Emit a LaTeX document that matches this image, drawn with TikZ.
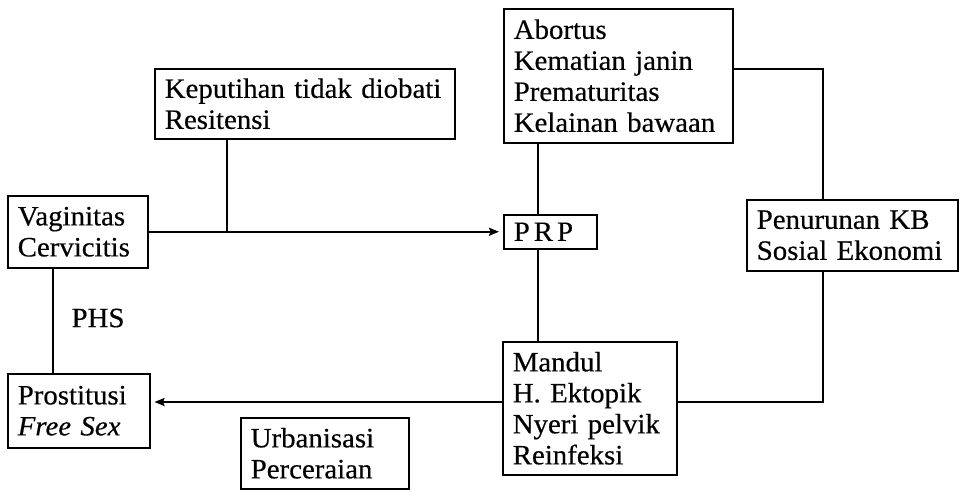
\documentclass[tikz,border=0pt]{standalone}
\usepackage{fontspec}
\setmainfont[FakeStretch=1.03,FakeBold=0.4]{Liberation Serif}
\usetikzlibrary{arrows.meta}
\tikzset{
  box/.style={draw, line width=1.5pt, anchor=north west, inner xsep=10pt, inner ysep=0pt,
    align=left, font=\fontsize{28}{31}\selectfont},
  conn/.style={line width=2.1pt},
  arr/.style={conn, -{Stealth[length=10pt,width=8pt,inset=1.5pt]}, shorten >=4pt},
  lbl/.style={font=\fontsize{28}{31}\selectfont, inner sep=0pt}
}
\begin{document}
\begin{tikzpicture}[x=1pt,y=-1pt]
\fill[white] (0,0) rectangle (960,491);
\useasboundingbox (0,0) rectangle (960,491);

\node[box, minimum width=140pt, minimum height=72pt, text width=120pt] (vag) at (7,195) {\mbox{Vaginitas}\\\mbox{Cervicitis}};
\node[box, minimum width=300pt, minimum height=70pt, text width=280pt] (kep) at (154,68) {\mbox{Keputihan tidak diobati}\\\mbox{Resitensi}};
\node[box, minimum width=93pt, minimum height=34pt, text width=73pt] (prp) at (503,214) {\mbox{P\hspace{4pt}R\hspace{4pt}P}};
\node[box, minimum width=229pt, minimum height=134pt, text width=209pt] (abo) at (503,8) {\mbox{Abortus}\\\mbox{Kematian janin}\\\mbox{Prematuritas}\\\mbox{Kelainan bawaan}};
\node[box, minimum width=211pt, minimum height=71pt, text width=191pt] (pen) at (746,199) {\mbox{Penurunan KB}\\\mbox{Sosial Ekonomi}};
\node[box, minimum width=174pt, minimum height=133pt, text width=154pt] (man) at (502,341) {\mbox{Mandul}\\\mbox{H. Ektopik}\\\mbox{Nyeri pelvik}\\\mbox{Reinfeksi}};
\node[box, minimum width=142pt, minimum height=74pt, text width=122pt] (pro) at (7,373) {\mbox{Prostitusi}\\\mbox{\itshape Free Sex}};
\node[box, minimum width=168pt, minimum height=71pt, text width=148pt] (urb) at (240,417) {\mbox{Urbanisasi}\\\mbox{Perceraian}};
\node[lbl] (phs) at (98,318) {PHS};

\coordinate (j1) at (227,231);
\coordinate (cx) at (538,0);
\coordinate (r1) at (823,69);
\coordinate (r2) at (823,402);
\coordinate (l1) at (0,402);
\coordinate (l2) at (53,0);

\draw[arr] (vag.east) -- (prp.west);
\draw[conn] (kep.south -| j1) -- (j1);
\draw[conn] (abo.south -| cx) -- (prp.north -| cx);
\draw[conn] (prp.south -| cx) -- (man.north -| cx);
\draw[conn] (abo.east |- r1) -- (r1) -- (pen.north -| r1);
\draw[conn] (pen.south -| r2) -- (r2) -- (man.east |- r2);
\draw[arr] (man.west |- l1) -- (pro.east |- l1);
\draw[conn] (vag.south -| l2) -- (pro.north -| l2);
\end{tikzpicture}
\end{document}
